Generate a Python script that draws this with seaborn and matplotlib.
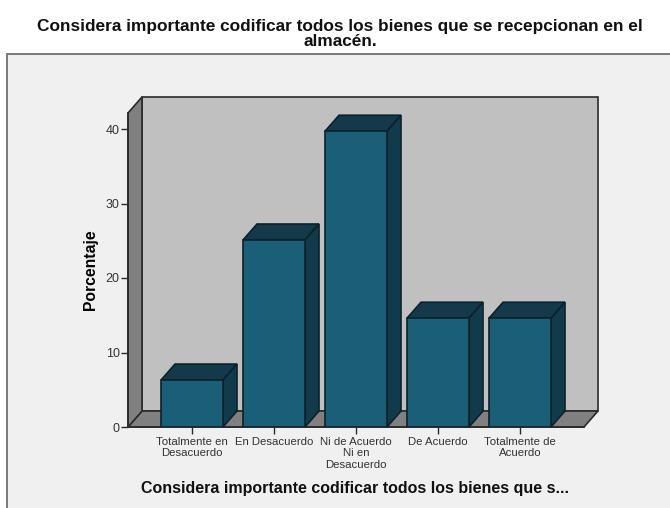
import pandas as pd
import matplotlib
matplotlib.use('Agg')
import matplotlib.pyplot as plt
from matplotlib.patches import Polygon, Rectangle
import seaborn as sns

categories = ['Totalmente en\nDesacuerdo', 'En Desacuerdo', 'Ni de Acuerdo\nNi en\nDesacuerdo', 'De Acuerdo', 'Totalmente de\nAcuerdo']
percent = [6.3, 25.1, 39.7, 14.6, 14.6]
y_ticks = [0, 10, 20, 30, 40]

title = 'Considera importante codificar todos los bienes que se recepcionan en el\nalmacén.'
x_label = 'Considera importante codificar todos los bienes que s...'

W, H = 670, 508
sns.set_style('white')
plt.rcParams['font.family'] = ['Liberation Sans', 'DejaVu Sans']

df = pd.DataFrame({'cat': categories, 'pct': percent})

fig = plt.figure(figsize=(W / 100, H / 100), dpi=100, facecolor='white')
# outer panel
fig.add_artist(Rectangle((7 / W, -0.02), 1, 1.02 - 54 / H, transform=fig.transFigure,
                         fc='#f0f0f0', ec='#707070', lw=1.3, zorder=-1))

ax = fig.add_axes([128 / W, 1 - 427 / H, (584 - 128) / W, (427 - 113) / H])
ax.patch.set_visible(False)

sns.barplot(data=df, x='cat', y='pct', color='#1b5e78', saturation=1, width=62 / 82,
            edgecolor='#0b222c', linewidth=1.2, ax=ax)

x0, x1 = (128 - 192) / 82, (584 - 192) / 82
y1 = (427 - 113) / 7.45
ax.set_xlim(x0, x1)
ax.set_ylim(0, y1)

# 3D depth offsets, in data units
dx, dy = 14 / 82, 16 / 7.45
line = '#2a2a2a'

def face(points, color, z):
    ax.add_patch(Polygon(points, closed=True, fc=color, ec=line, lw=1.2, clip_on=False, zorder=z))

face([(x0, 0), (x1, 0), (x1 + dx, dy), (x0 + dx, dy)], '#808080', 0.6)
face([(x0 + dx, dy), (x1 + dx, dy), (x1 + dx, y1 + dy), (x0 + dx, y1 + dy)], '#c0c0c0', 0.5)
face([(x0, 0), (x0 + dx, dy), (x0 + dx, y1 + dy), (x0, y1)], '#808080', 0.7)

for bar in ax.patches[:len(percent)]:
    bar.set_zorder(3)
    left, right, top = bar.get_x(), bar.get_x() + bar.get_width(), bar.get_height()
    ax.add_patch(Polygon([(left, top), (right, top), (right + dx, top + dy), (left + dx, top + dy)],
                         closed=True, fc='#13394a', ec='#0b222c', lw=1.2, clip_on=False, zorder=2.9))
    ax.add_patch(Polygon([(right, 0), (right + dx, dy), (right + dx, top + dy), (right, top)],
                         closed=True, fc='#113a4a', ec='#0b222c', lw=1.2, clip_on=False, zorder=2.9))

sns.despine(ax=ax, top=True, right=True)
for side in ['left', 'bottom']:
    ax.spines[side].set_color(line)
    ax.spines[side].set_linewidth(1.2)
    ax.spines[side].set_zorder(2.8)

ax.set_yticks(y_ticks)
ax.tick_params(axis='y', left=True, length=5, width=1, color=line, labelsize=9, labelcolor='#333333', pad=1)
ax.tick_params(axis='x', bottom=True, length=5, width=1, color=line, labelsize=8.2, labelcolor='#333333', pad=2)
for lab in ax.get_xticklabels():
    lab.set_linespacing(1.2)

ax.set_ylabel('Porcentaje', fontsize=11.3, fontweight='bold', color='black')
ax.yaxis.set_label_coords((98 - 128) / (584 - 128), (427 - 270) / (427 - 113))
ax.set_xlabel(x_label, fontsize=11.5, fontweight='bold', color='#111111')
ax.xaxis.set_label_coords((355 - 128) / (584 - 128), (427 - 488) / (427 - 113))
ax.xaxis.label.set_verticalalignment('center')

fig.text(340 / W, 1 - 34 / H, title, ha='center', va='center', fontsize=12.4, fontweight='bold',
         color='#111111', linespacing=1.05)

fig.savefig('out.png', dpi=100)
